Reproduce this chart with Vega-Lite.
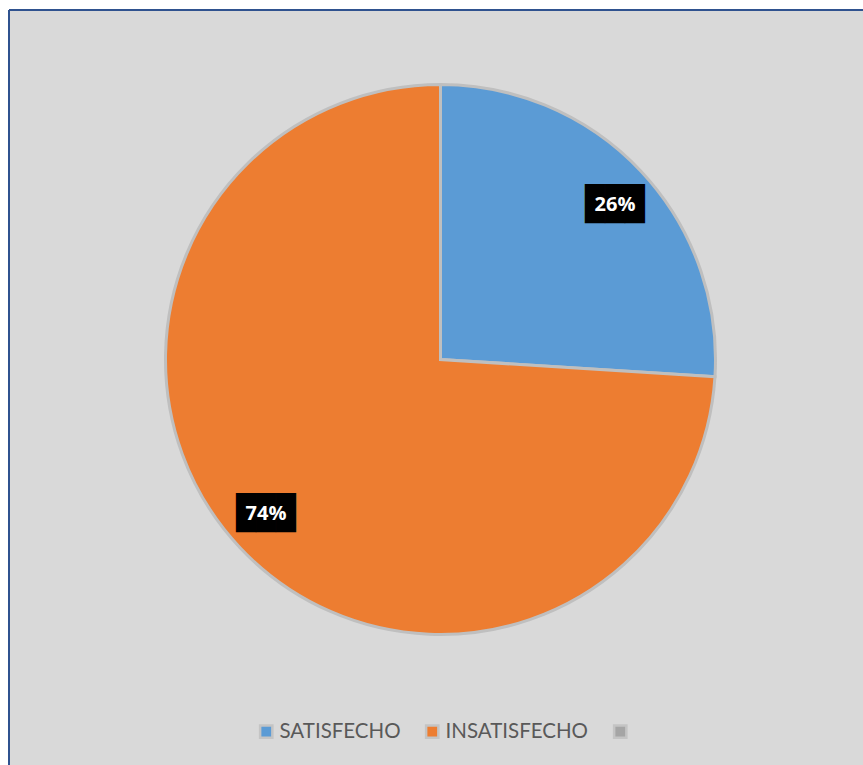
{
  "$schema": "https://vega.github.io/schema/vega-lite/v6.json",
  "width": 854,
  "height": 755,
  "autosize": {"type": "none"},
  "padding": {"left": 9, "top": 10, "right": 0, "bottom": 0},
  "background": "white",
  "view": {"fill": "#d9d9d9", "stroke": "#2f528f", "strokeWidth": 2, "strokeDash": [854, 1609, 755, 0]},
  "data": {"values": [
    {"categoria": "SATISFECHO", "porcentaje": 0.26, "orden": 1},
    {"categoria": "INSATISFECHO", "porcentaje": 0.74, "orden": 2}
  ]},
  "encoding": {
    "theta": {"field": "porcentaje", "type": "quantitative", "stack": true},
    "order": {"field": "orden", "type": "quantitative"}
  },
  "layer": [
    {
      "mark": {"type": "arc", "outerRadius": 275, "stroke": "#bfbfbf", "strokeWidth": 3,
               "x": {"expr": "width/2 + 4.5"}, "y": {"expr": "height/2 - 28"}},
      "encoding": {
        "color": {
          "field": "categoria", "type": "nominal",
          "scale": {"domain": ["SATISFECHO", "INSATISFECHO", ""], "range": ["#5b9bd5", "#ed7d31", "#a5a5a5"]},
          "legend": {
            "title": null, "orient": "none", "direction": "horizontal",
            "legendX": 247, "legendY": 711,
            "symbolType": "square", "symbolSize": 150,
            "symbolStrokeColor": "#c4c4c4", "symbolStrokeWidth": 2.5,
            "labelFont": "Lato", "labelFontSize": 20.5, "labelColor": "#595959",
            "columnPadding": 20, "labelOffset": 3
          }
        }
      }
    },
    {
      "mark": {"type": "text", "text": "███", "font": "DejaVu Sans Mono", "fontSize": 33, "fill": "black",
               "baseline": "middle", "align": "center", "radius": 233, "thetaOffset": 0.03,
               "x": {"expr": "width/2 + 4.5"}, "y": {"expr": "height/2 - 28"}}
    },
    {
      "mark": {"type": "text", "font": "Open Sans", "fontWeight": "bold", "fontSize": 20, "fill": "white",
               "baseline": "middle", "align": "center", "radius": 233, "thetaOffset": 0.03,
               "x": {"expr": "width/2 + 4.5"}, "y": {"expr": "height/2 - 28"}},
      "encoding": {"text": {"field": "porcentaje", "type": "quantitative", "format": ".0%"}}
    }
  ]
}
